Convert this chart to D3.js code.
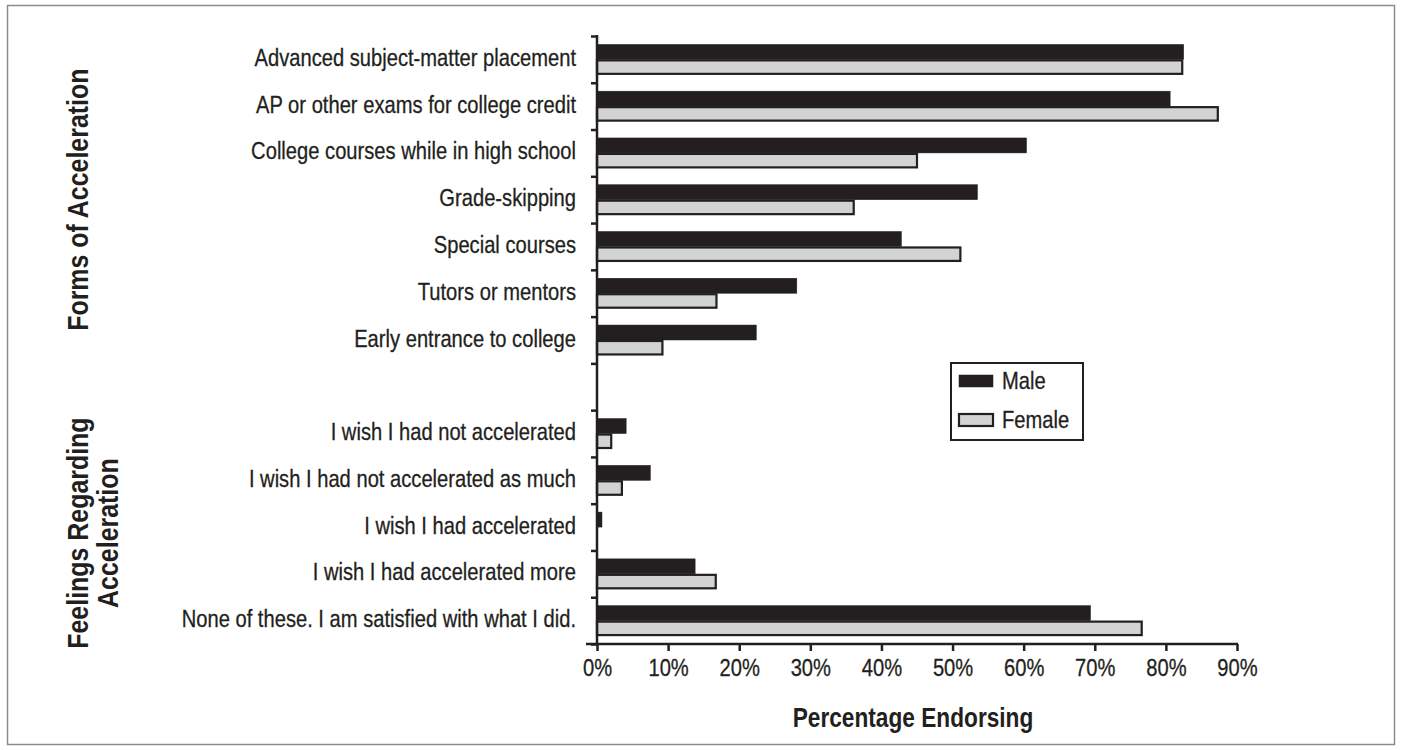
<!DOCTYPE html>
<html>
<head>
<meta charset="utf-8">
<script src="https://cdn.jsdelivr.net/npm/d3@7"></script>
<style>
  html, body { margin: 0; padding: 0; background: #fff; }
  svg { display: block; }
  text { font-family: "Liberation Sans", Arial, Helvetica, sans-serif; fill: #231f20; }
</style>
</head>
<body>
<svg id="chart" width="1402" height="750"></svg>
<script>
// ---- data ----
const categories = [
  "Advanced subject-matter placement",
  "AP or other exams for college credit",
  "College courses while in high school",
  "Grade-skipping",
  "Special courses",
  "Tutors or mentors",
  "Early entrance to college",
  "",
  "I wish I had not accelerated",
  "I wish I had not accelerated as much",
  "I wish I had accelerated",
  "I wish I had accelerated more",
  "None of these. I am satisfied with what I did."
];
const series = ["Male", "Female"];
const maleValues   = [82.5, 80.6, 60.4, 53.5, 42.8, 28.1, 22.4, null, 4.1, 7.5, 0.7, 13.8, 69.4];
const femaleValues = [82.3, 87.3, 45.0, 36.1, 51.1, 16.8, 9.2, null, 2.0, 3.5, 0, 16.7, 76.6];
const xTicks = [0, 10, 20, 30, 40, 50, 60, 70, 80, 90];
const groupTitles = [
  { lines: ["Forms of Acceleration"], first: 0, last: 6 },
  { lines: ["Feelings Regarding", "Acceleration"], first: 8, last: 12 }
];
const xTitle = "Percentage Endorsing";

(function () {
// ---- setup ----
const dark = "#231f20", light = "#d1d3d4";
const NARROW = 0.84;           // horizontal condensation to mimic a condensed face
const svg = d3.select("#chart");
const pLeft = 597, pRight = 1237, pTop = 36, pBottom = 644;

svg.append("rect").attr("x", 7.5).attr("y", 5.5).attr("width", 1387).attr("height", 739)
  .attr("fill", "none").attr("stroke", "#8c8c8c").attr("stroke-width", 1.5);

const keys = categories.map((c, i) => i);
const x = d3.scaleLinear().domain([0, 90]).range([pLeft, pRight]);
const y = d3.scaleBand().domain(keys).range([pTop, pBottom]).paddingInner(0).paddingOuter(0);
const bw = y.bandwidth();
const ySub = d3.scaleBand().domain(series).range([bw * 0.18, bw * 0.82]);

const rows = categories.map((c, i) => ({ i, c, Male: maleValues[i], Female: femaleValues[i] }));

// bars
const g = svg.append("g");
rows.forEach(r => {
  series.forEach(s => {
    const v = r[s];
    if (v === null || v === undefined || v <= 0) return;
    g.append("rect")
      .attr("x", x(0))
      .attr("y", y(r.i) + ySub(s) + (s === "Female" ? 1 : 0))
      .attr("width", x(v) - x(0))
      .attr("height", ySub.bandwidth() - (s === "Female" ? 1.5 : 0))
      .attr("fill", s === "Male" ? dark : light)
      .attr("stroke", dark)
      .attr("stroke-width", s === "Male" ? 0.5 : 2.2);
  });
});

// x axis
const xAxis = d3.axisBottom(x).tickValues(xTicks).tickSize(7).tickFormat(d => d + "%");
const xg = svg.append("g").attr("transform", `translate(0,${pBottom})`).call(xAxis);
xg.select(".domain").remove();
xg.selectAll(".tick line").attr("stroke", dark).attr("stroke-width", 2.5);
xg.selectAll(".tick text")
  .attr("font-size", 24).attr("y", 0).attr("dy", 0)
  .attr("transform", `translate(0,32) scale(${NARROW},1)`)
  .style("font-family", '"Liberation Sans", Arial, sans-serif').attr("fill", dark)
  .attr("stroke", dark).attr("stroke-width", 0.3);
svg.append("line").attr("x1", pLeft - 11).attr("x2", pRight + 1).attr("y1", pBottom).attr("y2", pBottom)
  .attr("stroke", dark).attr("stroke-width", 2.5);

// y axis (ticks at band boundaries)
const yIdx = d3.scaleLinear().domain([0, categories.length]).range([pTop, pBottom]);
const yAxis = d3.axisLeft(yIdx).tickValues(d3.range(categories.length + 1)).tickSize(6).tickFormat("");
const yg = svg.append("g").attr("transform", `translate(${pLeft},0)`).call(yAxis);
yg.select(".domain").remove();
yg.selectAll(".tick line").attr("stroke", dark).attr("stroke-width", 2.5);
svg.append("line").attr("x1", pLeft).attr("x2", pLeft).attr("y1", pTop - 1).attr("y2", pBottom)
  .attr("stroke", dark).attr("stroke-width", 2.5);

// category labels
svg.append("g").selectAll("text").data(rows.filter(r => r.c !== "")).join("text")
  .attr("transform", r => `translate(${pLeft - 21},${y(r.i) + bw / 2 + 6.5}) scale(${NARROW},1)`)
  .attr("text-anchor", "end")
  .attr("font-size", 24)
  .attr("stroke", dark).attr("stroke-width", 0.3)
  .text(r => r.c);

// group titles
groupTitles.forEach(gt => {
  const cy = (y(gt.first) + y(gt.last) + bw) / 2 + (gt.lines.length > 1 ? 6 : 0);
  const n = gt.lines.length;
  gt.lines.forEach((ln, k) => {
    const cx = (n === 1 ? 88 : 88 + k * 30);
    svg.append("text")
      .attr("transform", `translate(${cx},${cy}) rotate(-90) scale(0.86,1)`)
      .attr("text-anchor", "middle")
      .attr("font-size", 29)
      .attr("font-weight", "bold")
      .text(ln);
  });
});

// x title
svg.append("text").attr("transform", `translate(${(pLeft + pRight) / 2 - 4},727) scale(${NARROW},1)`)
  .attr("text-anchor", "middle").attr("font-size", 27).attr("font-weight", "bold").text(xTitle);

// legend
const lg = svg.append("g").attr("transform", "translate(951,363)");
lg.append("rect").attr("width", 132).attr("height", 77).attr("fill", "#fff")
  .attr("stroke", dark).attr("stroke-width", 2);
series.forEach((s, k) => {
  const yy = 17 + k * 39;
  lg.append("rect").attr("x", 8).attr("y", yy - 5).attr("width", 34).attr("height", 12)
    .attr("fill", s === "Male" ? dark : light).attr("stroke", dark).attr("stroke-width", s === "Male" ? 0.5 : 2.2);
  lg.append("text").attr("transform", `translate(51,${yy + 9}) scale(${NARROW},1)`)
    .attr("font-size", 24).attr("stroke", dark).attr("stroke-width", 0.3).text(s);
});
})();
</script>
</body>
</html>
